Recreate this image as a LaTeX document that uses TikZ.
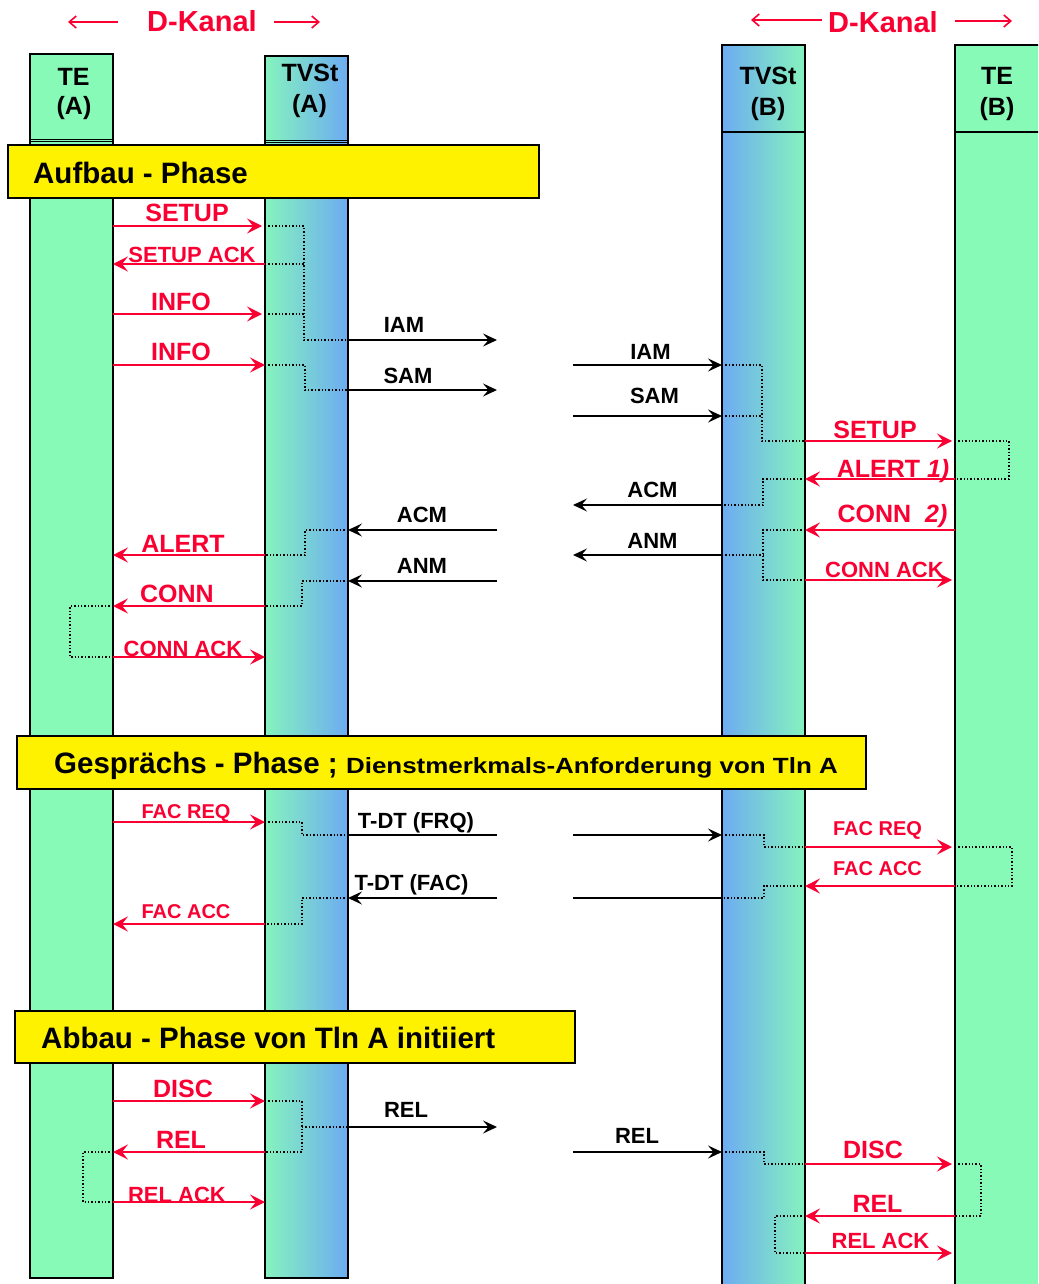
\documentclass[tikz,border=0pt]{standalone}
\usepackage{fontspec}
\usepackage{graphicx}
\setmainfont{Liberation Sans}
\usetikzlibrary{arrows.meta}
\definecolor{tegreen}{RGB}{136,250,184}
\definecolor{tvblue}{RGB}{102,153,255}
\definecolor{msgred}{RGB}{250,0,50}
\pgfdeclarehorizontalshading{gradAB}{100bp}{color(0bp)=(tegreen); color(20bp)=(tegreen); color(88bp)=(tvblue); color(100bp)=(tvblue)}
\pgfdeclarehorizontalshading{gradBA}{100bp}{color(0bp)=(tvblue); color(12bp)=(tvblue); color(80bp)=(tegreen); color(100bp)=(tegreen)}
\begin{document}
\begin{tikzpicture}[x=1pt,y=-1pt,
  col/.style={draw=black, line width=1.6pt, anchor=north west, inner sep=0pt, outer sep=0pt, minimum width=83pt},
  hdr/.style={font=\bfseries\fontsize{25}{25}\selectfont, anchor=base, inner sep=0pt},
  phase/.style={draw=black, line width=1.6pt, fill=yellow, anchor=north west, inner sep=0pt, outer sep=0pt},
  phtext/.style={font=\bfseries\fontsize{29.5}{29.5}\selectfont, anchor=base west, inner sep=0pt},
  rlbl/.style={text=msgred, font=\bfseries\fontsize{#1}{#1}\selectfont, anchor=base, inner sep=0pt},
  blbl/.style={text=black, font=\bfseries\fontsize{22}{22}\selectfont, anchor=base, inner sep=0pt},
  rarr/.style={draw=msgred, line width=1.8pt, -{Stealth[length=15pt,width=15pt,inset=6pt]}},
  barr/.style={draw=black, line width=1.8pt, -{Stealth[length=14pt,width=13pt,inset=5.5pt]}},
  bline/.style={draw=black, line width=1.8pt},
  dotpath/.style={draw=black, line width=1.4pt, dotted},
  kanal/.style={draw=msgred, line width=1.6pt, -{Straight Barb[length=7pt,width=12pt]}},
  seplinethin/.style={draw=black, line width=1pt}
]
\useasboundingbox (0,0) rectangle (1038,1284);
\clip (0,0) rectangle (1038,1284);

% lifelines
\node[col, fill=tegreen, minimum height=1224pt] (teA) at (30,54) {};
\node[col, shading=gradAB, minimum height=1222pt] (tvA) at (265,56) {};
\node[col, shading=gradBA, minimum height=1260pt] (tvB) at (722,45) {};
\node[col, fill=tegreen, minimum width=100pt, minimum height=1260pt] (teB) at (955,45) {};

\draw[seplinethin] (teA.west |- 0,139.5) -- (teA.east |- 0,139.5);
\draw[seplinethin] (teA.west |- 0,142) -- (teA.east |- 0,142);
\draw[seplinethin] (tvA.west |- 0,140.5) -- (tvA.east |- 0,140.5);
\draw[seplinethin] (tvA.west |- 0,143) -- (tvA.east |- 0,143);
\draw[line width=1.6pt] (tvB.west |- 0,132) -- (tvB.east |- 0,132);
\draw[line width=1.6pt] (teB.west |- 0,132) -- (teB.east |- 0,132);

% headers
\node[hdr] (teAh1) at (73.5,86) {TE};
\node[hdr] (teAh2) at (74,115) {(A)};
\node[hdr] (tvAh1) at (310,82) {TVSt};
\node[hdr] (tvAh2) at (309.5,113) {(A)};
\node[hdr] (tvBh1) at (768,85) {TVSt};
\node[hdr] (tvBh2) at (768,116) {(B)};
\node[hdr] (teBh1) at (997,85) {TE};
\node[hdr] (teBh2) at (997,116) {(B)};

% D-Kanal
\node[rlbl=29] (dk1) at (202,32) {D-Kanal};
\node[rlbl=29] (dk2) at (883,33) {D-Kanal};
\draw[kanal] ([xshift=-29pt]dk1.west |- 0,22) -- ++(-50,0);
\draw[kanal] ([xshift=17pt]dk1.east |- 0,22) -- ++(46,0);
\draw[kanal] ([xshift=-6pt]dk2.west |- 0,20) -- ++(-71,0);
\draw[kanal] ([xshift=17pt]dk2.east |- 0,21) -- ++(57,0);

% phases
\node[phase, minimum width=531pt, minimum height=53pt] (ph1) at (8,145) {};
\node[phtext] (ph1t) at (33,183) {Aufbau - Phase};
\node[phase, minimum width=849pt, minimum height=53pt] (ph2) at (17,736) {};
\node[phtext] (ph2t) at (54,773) {Gesprächs - Phase ; {\fontsize{22}{22}\selectfont\scalebox{1.18}[1]{Dienstmerkmals-Anforderung von Tln A}}};
\node[phase, minimum width=560pt, minimum height=52pt] (ph3) at (15,1011) {};
\node[phtext] (ph3t) at (41,1048) {Abbau - Phase von Tln A initiiert};

\coordinate (gapL) at (497,0);
\coordinate (gapR) at (573,0);

% dotted internal paths, side A
\draw[dotpath] (tvA.west |- 0,226) -| (304,340) -- (tvA.east |- 0,340);
\draw[dotpath] (tvA.west |- 0,264) -- (304,264);
\draw[dotpath] (tvA.west |- 0,314) -- (304,314);
\draw[dotpath] (tvA.west |- 0,365) -| (305,390) -- (tvA.east |- 0,390);
\draw[dotpath] (tvA.east |- 0,530) -| (305,555) -- (tvA.west |- 0,555);
\draw[dotpath] (tvA.east |- 0,581) -| (302,606) -- (tvA.west |- 0,606);
\draw[dotpath] (teA.east |- 0,606) -| (70,657) -- (teA.east |- 0,657);
\draw[dotpath] (tvA.west |- 0,822) -| (302,835) -- (tvA.east |- 0,835);
\draw[dotpath] (tvA.east |- 0,898) -| (302,924) -- (tvA.west |- 0,924);
\draw[dotpath] (tvA.west |- 0,1101) -| (302,1152) -- (tvA.west |- 0,1152);
\draw[dotpath] (302,1127) -- (tvA.east |- 0,1127);
\draw[dotpath] (teA.east |- 0,1152) -| (83,1202) -- (teA.east |- 0,1202);

% dotted internal paths, side B
\draw[dotpath] (tvB.west |- 0,365) -| (762,441) -- (tvB.east |- 0,441);
\draw[dotpath] (tvB.west |- 0,416) -- (762,416);
\draw[dotpath] (teB.west |- 0,441) -| (1009,479) -- (teB.west |- 0,479);
\draw[dotpath] (tvB.east |- 0,479) -| (763,505) -- (tvB.west |- 0,505);
\draw[dotpath] (tvB.east |- 0,530) -| (763,580) -- (tvB.east |- 0,580);
\draw[dotpath] (tvB.west |- 0,555) -- (763,555);
\draw[dotpath] (tvB.west |- 0,835) -| (764,847) -- (tvB.east |- 0,847);
\draw[dotpath] (teB.west |- 0,847) -| (1012,886) -- (teB.west |- 0,886);
\draw[dotpath] (tvB.east |- 0,886) -| (764,898) -- (tvB.west |- 0,898);
\draw[dotpath] (tvB.west |- 0,1152) -| (764,1164) -- (tvB.east |- 0,1164);
\draw[dotpath] (teB.west |- 0,1164) -| (981,1216) -- (teB.west |- 0,1216);
\draw[dotpath] (tvB.east |- 0,1216) -| (775,1253) -- (tvB.east |- 0,1253);

% red messages A
\draw[rarr] (teA.east |- 0,226) -- ([xshift=-3pt]tvA.west |- 0,226);
\node[rlbl=25] (mA1) at (187,221) {SETUP};
\draw[rarr] (tvA.west |- 0,264) -- (teA.east |- 0,264);
\node[rlbl=22] (mA2) at (192,262) {SETUP ACK};
\draw[rarr] (teA.east |- 0,314) -- ([xshift=-3pt]tvA.west |- 0,314);
\node[rlbl=25] (mA3) at (181,310) {INFO};
\draw[rarr] (teA.east |- 0,365) -- (tvA.west |- 0,365);
\node[rlbl=25] (mA4) at (181,360) {INFO};
\draw[rarr] (tvA.west |- 0,555) -- (teA.east |- 0,555);
\node[rlbl=25] (mA5) at (183,552) {ALERT};
\draw[rarr] (tvA.west |- 0,606) -- (teA.east |- 0,606);
\node[rlbl=25] (mA6) at (177,602) {CONN};
\draw[rarr] (teA.east |- 0,657) -- (tvA.west |- 0,657);
\node[rlbl=22] (mA7) at (183,656) {CONN ACK};
\draw[rarr] (teA.east |- 0,822) -- (tvA.west |- 0,822);
\node[rlbl=20] (mA8) at (186,818) {FAC REQ};
\draw[rarr] (tvA.west |- 0,924) -- (teA.east |- 0,924);
\node[rlbl=20] (mA9) at (186,918) {FAC ACC};
\draw[rarr] (teA.east |- 0,1101) -- (tvA.west |- 0,1101);
\node[rlbl=25] (mA10) at (183,1097) {DISC};
\draw[rarr] (tvA.west |- 0,1152) -- (teA.east |- 0,1152);
\node[rlbl=25] (mA11) at (181,1148) {REL};
\draw[rarr] (teA.east |- 0,1202) -- (tvA.west |- 0,1202);
\node[rlbl=22] (mA12) at (177,1202) {REL ACK};

% black messages, A side
\draw[barr] (tvA.east |- 0,340) -- (gapL |- 0,340);
\node[blbl] (nA1) at (404,332) {IAM};
\draw[barr] (tvA.east |- 0,390) -- (gapL |- 0,390);
\node[blbl] (nA2) at (408,383) {SAM};
\draw[barr] (gapL |- 0,530) -- (tvA.east |- 0,530);
\node[blbl] (nA3) at (422,522) {ACM};
\draw[barr] (gapL |- 0,581) -- (tvA.east |- 0,581);
\node[blbl] (nA4) at (422,573) {ANM};
\draw[bline] (tvA.east |- 0,835) -- (gapL |- 0,835);
\node[blbl] (nA5) at (416,828) {T-DT (FRQ)};
\draw[barr] (gapL |- 0,898) -- (tvA.east |- 0,898);
\node[blbl] (nA6) at (411.5,890) {T-DT (FAC)};
\draw[barr] (tvA.east |- 0,1127) -- (gapL |- 0,1127);
\node[blbl] (nA7) at (406,1117) {REL};

% black messages, B side
\draw[barr] (gapR |- 0,365) -- (tvB.west |- 0,365);
\node[blbl] (nB1) at (650.5,359) {IAM};
\draw[barr] (gapR |- 0,416) -- (tvB.west |- 0,416);
\node[blbl] (nB2) at (654.5,403) {SAM};
\draw[barr] (tvB.west |- 0,505) -- (gapR |- 0,505);
\node[blbl] (nB3) at (652.5,497) {ACM};
\draw[barr] (tvB.west |- 0,555) -- (gapR |- 0,555);
\node[blbl] (nB4) at (652.5,548) {ANM};
\draw[barr] (gapR |- 0,835) -- (tvB.west |- 0,835);
\draw[bline] (gapR |- 0,898) -- (tvB.west |- 0,898);
\draw[barr] (gapR |- 0,1152) -- (tvB.west |- 0,1152);
\node[blbl] (nB5) at (637,1143) {REL};

% red messages B
\draw[rarr] (tvB.east |- 0,441) -- ([xshift=-3pt]teB.west |- 0,441);
\node[rlbl=25] (mB1) at (875,438) {SETUP};
\draw[rarr] (teB.west |- 0,479) -- (tvB.east |- 0,479);
\node[rlbl=25] (mB2) at (893,477) {ALERT \textit{1)}};
\draw[rarr] (teB.west |- 0,530) -- (tvB.east |- 0,530);
\node[rlbl=25] (mB3) at (892.5,522) {CONN\ \ \textit{2)}};
\draw[rarr] (tvB.east |- 0,580) -- ([xshift=-3pt]teB.west |- 0,580);
\node[rlbl=22] (mB4) at (884.5,577) {CONN ACK};
\draw[rarr] (tvB.east |- 0,847) -- ([xshift=-3pt]teB.west |- 0,847);
\node[rlbl=20] (mB5) at (877.5,835) {FAC REQ};
\draw[rarr] (teB.west |- 0,886) -- (tvB.east |- 0,886);
\node[rlbl=20] (mB6) at (877.5,875) {FAC ACC};
\draw[rarr] (tvB.east |- 0,1164) -- ([xshift=-3pt]teB.west |- 0,1164);
\node[rlbl=25] (mB7) at (873,1158) {DISC};
\draw[rarr] (teB.west |- 0,1216) -- (tvB.east |- 0,1216);
\node[rlbl=25] (mB8) at (877.5,1212) {REL};
\draw[rarr] (tvB.east |- 0,1253) -- ([xshift=-3pt]teB.west |- 0,1253);
\node[rlbl=22] (mB9) at (880.5,1248) {REL ACK};
\end{tikzpicture}
\end{document}
